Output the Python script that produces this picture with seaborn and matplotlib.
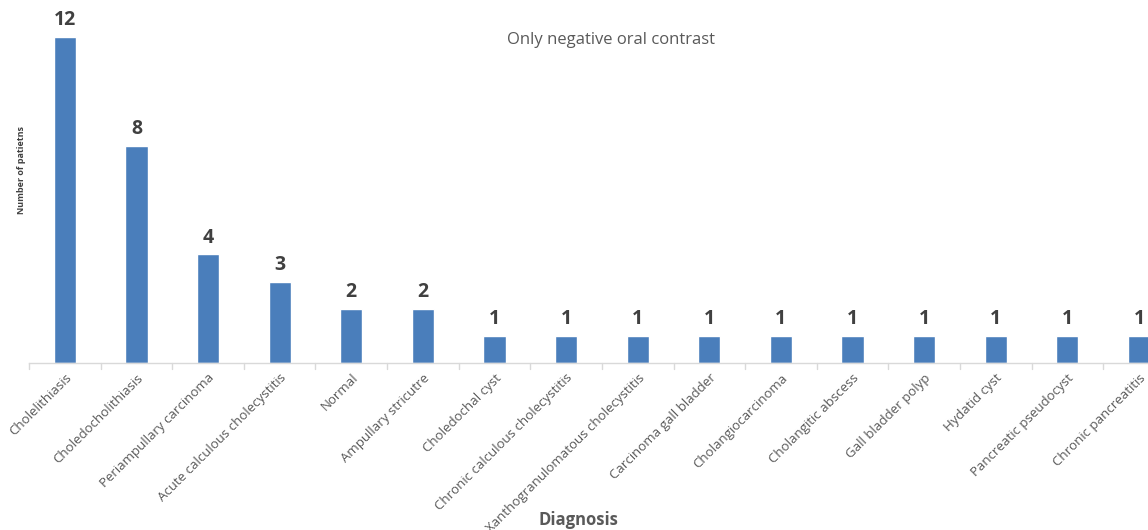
import matplotlib
matplotlib.use('Agg')
import matplotlib.pyplot as plt
import pandas as pd
import seaborn as sns

diagnosis = ['Cholelithiasis', 'Choledocholithiasis', 'Periampullary carcinoma',
             'Acute calculous cholecystitis', 'Normal', 'Ampullary stricutre',
             'Choledochal cyst', 'Chronic calculous cholecystitis',
             'Xanthogranulomatous cholecystitis', 'Carcinoma gall bladder',
             'Cholangiocarcinoma', 'Cholangitic abscess', 'Gall bladder polyp',
             'Hydatid cyst', 'Pancreatic pseudocyst', 'Chronic pancreatitis']
patients = [12, 8, 4, 3, 2, 2, 1, 1, 1, 1, 1, 1, 1, 1, 1, 1]

df = pd.DataFrame({'diagnosis': diagnosis, 'patients': patients})

sns.set_style('white')
plt.rcParams['font.family'] = ['Open Sans', 'DejaVu Sans']

fig = plt.figure(figsize=(11.48, 5.3), dpi=100)
ax = fig.add_axes([0.0253, 0.315, 0.998, 0.666])

sns.barplot(data=df, x='diagnosis', y='patients', color='#4a7ebb',
            width=0.31, ax=ax, saturation=1)

for i, v in enumerate(patients):
    ax.text(i, v + 0.25, str(v), ha='center', va='bottom', fontsize=14,
            fontweight='bold', color='#404040')

ax.set_ylim(0, 13)
ax.set_xlim(-0.5, len(diagnosis) - 0.5)
ax.set_yticks([])
ax.set_ylabel('')
ax.set_xlabel('')

# category boundary ticks
ax.set_xticks(range(len(diagnosis)))
ax.set_xticklabels(diagnosis, rotation=45, ha='right', rotation_mode='anchor',
                   fontsize=9.5, color='#595959')
ax.tick_params(axis='x', length=0, pad=6)
for b in [i - 0.5 for i in range(len(diagnosis) + 1)]:
    ax.plot([b, b], [0, -0.22], color='#d9d9d9', lw=1, clip_on=False)

for s in ['top', 'right', 'left']:
    ax.spines[s].set_visible(False)
ax.spines['bottom'].set_color('#d9d9d9')
ax.spines['bottom'].set_linewidth(1)

fig.text(0.532, 0.925, 'Only negative oral contrast', ha='center', va='center',
         fontsize=12, color='#595959')
fig.text(0.019, 0.68, 'Number of patietns', rotation=90, ha='center',
         va='center', fontsize=6.5, fontweight='bold', color='#404040')
fig.text(0.504, 0.018, 'Diagnosis', ha='center', va='center', fontsize=12,
         fontweight='bold', color='#595959')

fig.savefig('out.png', dpi=100)
